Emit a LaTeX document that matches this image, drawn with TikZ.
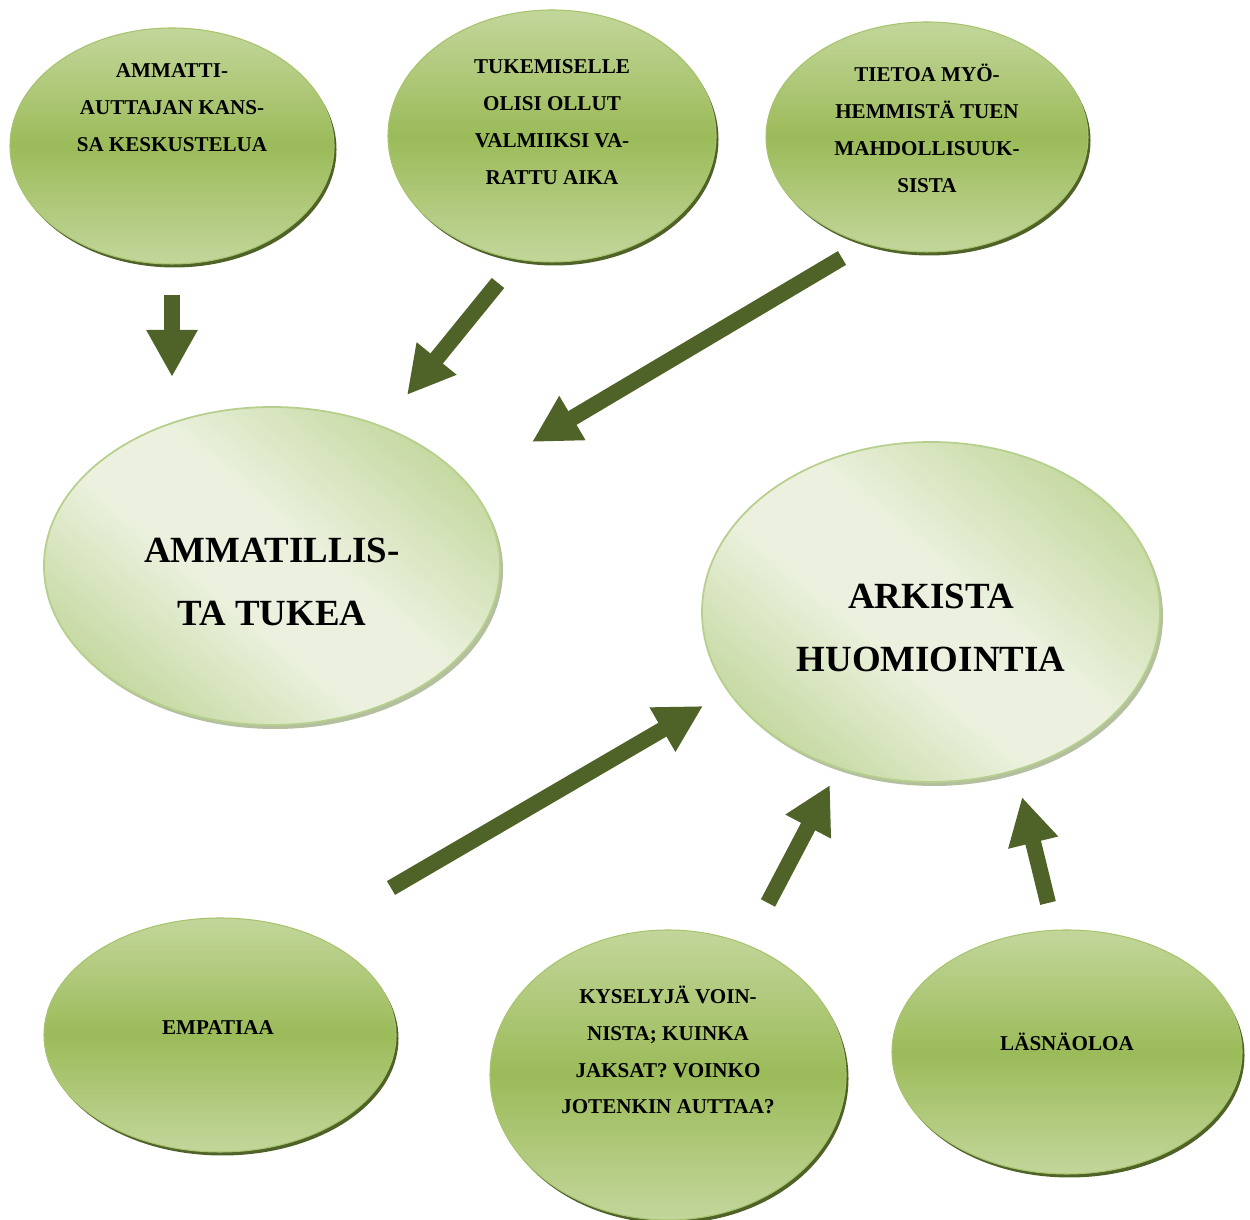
\documentclass[tikz,border=0pt]{standalone}
\usepackage{fontspec}
\setmainfont{Liberation Serif}
\usetikzlibrary{positioning}
\usetikzlibrary{shapes}
\usetikzlibrary{arrows.meta}
\usetikzlibrary{shadows}
\definecolor{leaf}{HTML}{9BBB59}
\definecolor{leaflight}{HTML}{C3D69B}
\definecolor{leafedge}{HTML}{A7C36C}
\definecolor{pale}{HTML}{EBF1DE}
\definecolor{paledark}{HTML}{C6D9A2}
\definecolor{paleedge}{HTML}{B6CF8C}
\definecolor{rim}{HTML}{B4BFA0}
\definecolor{arrowgreen}{HTML}{4F6228}
\pgfdeclareverticalshading{paleband}{100bp}{color(0bp)=(paledark); color(25bp)=(paledark);
    color(43bp)=(pale); color(55bp)=(pale); color(75bp)=(paledark); color(100bp)=(paledark)}

\begin{document}
\begin{tikzpicture}[
    small/.style={ellipse, inner sep=0pt, draw=leafedge, line width=0.6pt,
        top color=leaflight, bottom color=leaflight, middle color=leaf,
        drop shadow={fill=arrowgreen, opacity=1, shadow xshift=0.05cm, shadow yshift=-0.07cm}},
    big/.style={ellipse, inner sep=0pt, draw=paleedge, line width=1pt,
        shading=paleband, shading angle=-40,
        drop shadow={fill=rim, opacity=1, shadow xshift=0.06cm, shadow yshift=-0.08cm}},
    txt/.style={align=center, font=\bfseries\fontsize{12}{21}\selectfont},
    bigtxt/.style={align=center, font=\bfseries\fontsize{21}{36}\selectfont},
    arr/.style={draw=arrowgreen, line width=0.32cm,
        -{Triangle[width=0.96cm, length=0.94cm]}}]
    \useasboundingbox (0,0) rectangle (25,24.4);

    \node[small, minimum width=6.48cm, minimum height=4.72cm] (e1) at (3.44, 21.48) {};
    \node[small, minimum width=6.56cm, minimum height=5.04cm] (e2) at (11.04, 21.68) {};
    \node[small, minimum width=6.44cm, minimum height=4.60cm] (e3) at (18.54, 21.66) {};
    \node[big, minimum width=9.12cm, minimum height=6.36cm] (e4) at (5.44, 13.08) {};
    \node[big, minimum width=9.16cm, minimum height=6.80cm] (e5) at (18.62, 12.16) {};
    \node[small, minimum width=7.04cm, minimum height=4.68cm] (e6) at (4.40, 3.70) {};
    \node[small, minimum width=7.12cm, minimum height=5.80cm] (e7) at (13.36, 2.90) {};
    \node[small, minimum width=7.00cm, minimum height=4.88cm] (e8) at (21.34, 3.36) {};

    \node[txt] (t1) at ([yshift=0.76cm]e1.center) {AMMATTI-\\AUTTAJAN KANS-\\SA KESKUSTELUA};
    \node[txt] (t2) at ([yshift=0.28cm]e2.center) {TUKEMISELLE\\OLISI OLLUT\\VALMIIKSI VA-\\RATTU AIKA};
    \node[txt] (t3) at ([yshift=0.18cm]e3.center) {TIETOA MYÖ-\\HEMMISTÄ TUEN\\MAHDOLLISUUK-\\SISTA};
    \node[bigtxt] (t4) at ([yshift=-0.32cm]e4.center) {AMMATILLIS-\\TA TUKEA};
    \node[bigtxt] (t5) at ([yshift=-0.32cm]e5.center) {ARKISTA\\HUOMIOINTIA};
    \node[txt] (t6) at ([xshift=-0.04cm, yshift=0.14cm]e6.center) {EMPATIAA};
    \node[txt] (t7) at ([yshift=0.5cm]e7.center) {KYSELYJÄ VOIN-\\NISTA; KUINKA\\JAKSAT? VOINKO\\JOTENKIN AUTTAA?};
    \node[txt] (t8) at ([yshift=0.2cm]e8.center) {LÄSNÄOLOA};

    \coordinate (a1s) at (3.44, 18.50);
    \coordinate (a1e) at (3.44, 16.86);
    \coordinate (a2s) at (9.96, 18.74);
    \coordinate (a2e) at (8.14, 16.50);
    \coordinate (a3s) at (16.84, 19.24);
    \coordinate (a3e) at (10.64, 15.56);
    \coordinate (a4s) at (7.82, 6.64);
    \coordinate (a4e) at (14.06, 10.28);
    \coordinate (a5s) at (15.36, 6.34);
    \coordinate (a5e) at (16.60, 8.70);
    \coordinate (a6s) at (20.96, 6.34);
    \coordinate (a6e) at (20.44, 8.46);

    \draw[arr] (a1s) -- (a1e);
    \draw[arr] (a2s) -- (a2e);
    \draw[arr] (a3s) -- (a3e);
    \draw[arr] (a4s) -- (a4e);
    \draw[arr] (a5s) -- (a5e);
    \draw[arr] (a6s) -- (a6e);
\end{tikzpicture}
\end{document}
